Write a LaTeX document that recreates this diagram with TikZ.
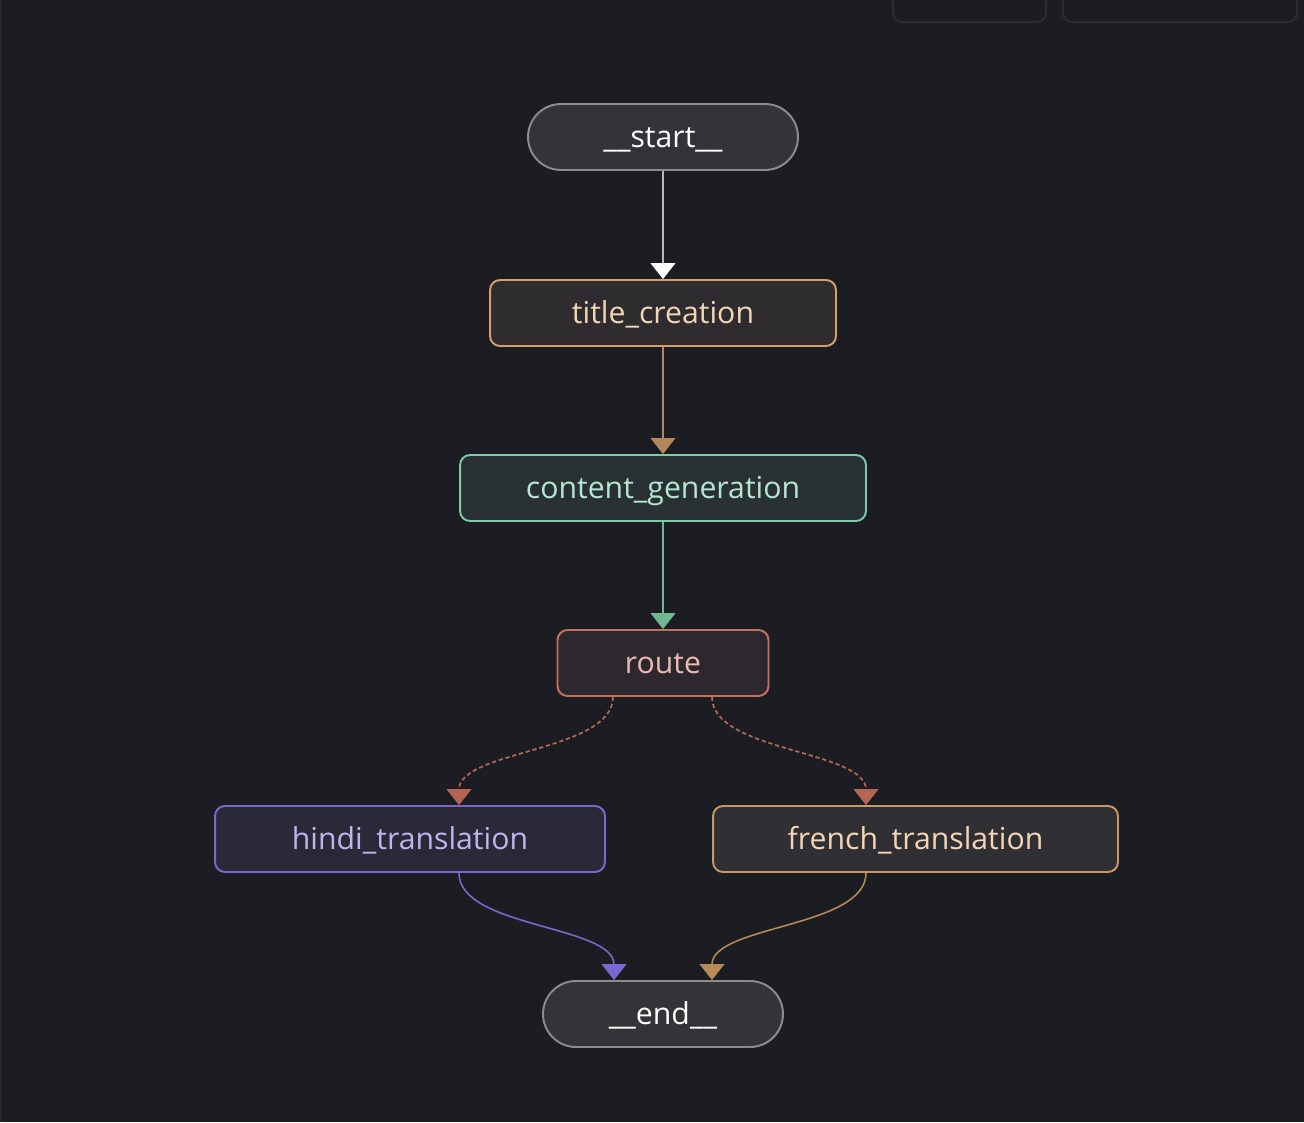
\documentclass[tikz,border=0pt]{standalone}
\usepackage{fontspec}
\setmainfont{Open Sans}
\usetikzlibrary{arrows.meta}
\definecolor{fondo}{HTML}{1B1D23}
\definecolor{franja}{HTML}{26272C}
\definecolor{marco}{HTML}{2C2D33}
\definecolor{gris}{HTML}{8C8C90}
\definecolor{grisfill}{HTML}{333438}
\definecolor{ambar}{HTML}{D4A06A}
\definecolor{ambarfill}{HTML}{2E2C2F}
\definecolor{ambartxt}{HTML}{F2D6B6}
\definecolor{verde}{HTML}{7CCBA2}
\definecolor{verdefill}{HTML}{293134}
\definecolor{verdetxt}{HTML}{B5E6CF}
\definecolor{rojo}{HTML}{C8705F}
\definecolor{rojofill}{HTML}{2D282D}
\definecolor{rojotxt}{HTML}{EBBAB3}
\definecolor{lila}{HTML}{7A68D0}
\definecolor{lilafill}{HTML}{2A2938}
\definecolor{lilatxt}{HTML}{BDB5EC}
\definecolor{beige}{HTML}{C9995F}
\definecolor{beigefill}{HTML}{302F33}
\tikzset{
  % Nodos del grafo: caja redondeada, texto centrado
  caja/.style     = {rectangle, rounded corners=0.2cm, line width=1.1pt,
                     minimum height=1.32cm, inner sep=0pt,
                     text height=12.4pt, text depth=0pt,
                     font=\fontsize{17.2}{20}\selectfont},
  % Inicio y fin: forma de píldora
  pildora/.style  = {caja, rounded corners=0.66cm, draw=gris, fill=grisfill,
                     text=white, minimum width=5.4cm},
  % Aristas: línea fina y punta triangular llena
  arista/.style   = {line width=0.9pt,
                     -{Triangle[width=14pt, length=9pt]}},
  condicional/.style = {arista, line width=1pt, dash pattern=on 2.4pt off 1.6pt},
}

\begin{document}
\begin{tikzpicture}[x=0.02cm, y=-0.02cm]

  % fondo y marcos del borde superior
  \fill[fondo] (0,0) rectangle (1304,1122);
  \fill[franja] (0,0) rectangle (2,1122);
  \useasboundingbox (0,0) rectangle (1304,1122);
  \draw[marco, line width=1.2pt, rounded corners=0.18cm]
    (893,-30) rectangle (1046,22);
  \draw[marco, line width=1.2pt, rounded corners=0.18cm]
    (1063,-30) rectangle (1297,22);

  % nodos
  \node[pildora] (start) at (663,137) {\_\_start\_\_};
  \node[caja, draw=ambar, fill=ambarfill, text=ambartxt,
        minimum width=6.92cm] (title) at (663,313) {title\_creation};
  \node[caja, draw=verde, fill=verdefill, text=verdetxt,
        minimum width=8.12cm] (content) at (663,488) {content\_generation};
  \node[caja, draw=rojo, fill=rojofill, text=rojotxt,
        minimum width=4.22cm] (route) at (663,663) {route};
  \node[caja, draw=lila, fill=lilafill, text=lilatxt,
        minimum width=7.8cm] (hindi) at (410,839) {hindi\_translation};
  \node[caja, draw=beige, fill=beigefill, text=ambartxt,
        minimum width=8.1cm] (french) at (915.5,839) {french\_translation};
  \node[pildora, minimum width=4.8cm] (end) at (663,1014) {\_\_end\_\_};

  % aristas rectas
  \draw[arista, color=gray!55, -{Triangle[width=14pt, length=9pt, color=white]}]
    (start) -- (title);
  \draw[arista, color=ambar!85!black] (title) -- (content);
  \draw[arista, color=verde!90!black] (content) -- (route);

  % aristas condicionales (discontinuas)
  \draw[condicional, color=rojo!90!black]
    ([xshift=-1cm]route.south) .. controls +(0,55) and +(0,-55) ..
    ([xshift=0.98cm]hindi.north);
  \draw[condicional, color=rojo!90!black]
    ([xshift=0.98cm]route.south) .. controls +(0,55) and +(0,-55) ..
    ([xshift=-0.99cm]french.north);

  % aristas hacia el final
  \draw[arista, color=lila]
    ([xshift=0.98cm]hindi.south) .. controls +(0,55) and +(0,-55) ..
    ([xshift=-0.98cm]end.north);
  \draw[arista, color=beige!90!black]
    ([xshift=-0.99cm]french.south) .. controls +(0,55) and +(0,-55) ..
    ([xshift=0.98cm]end.north);

\end{tikzpicture}
\end{document}
